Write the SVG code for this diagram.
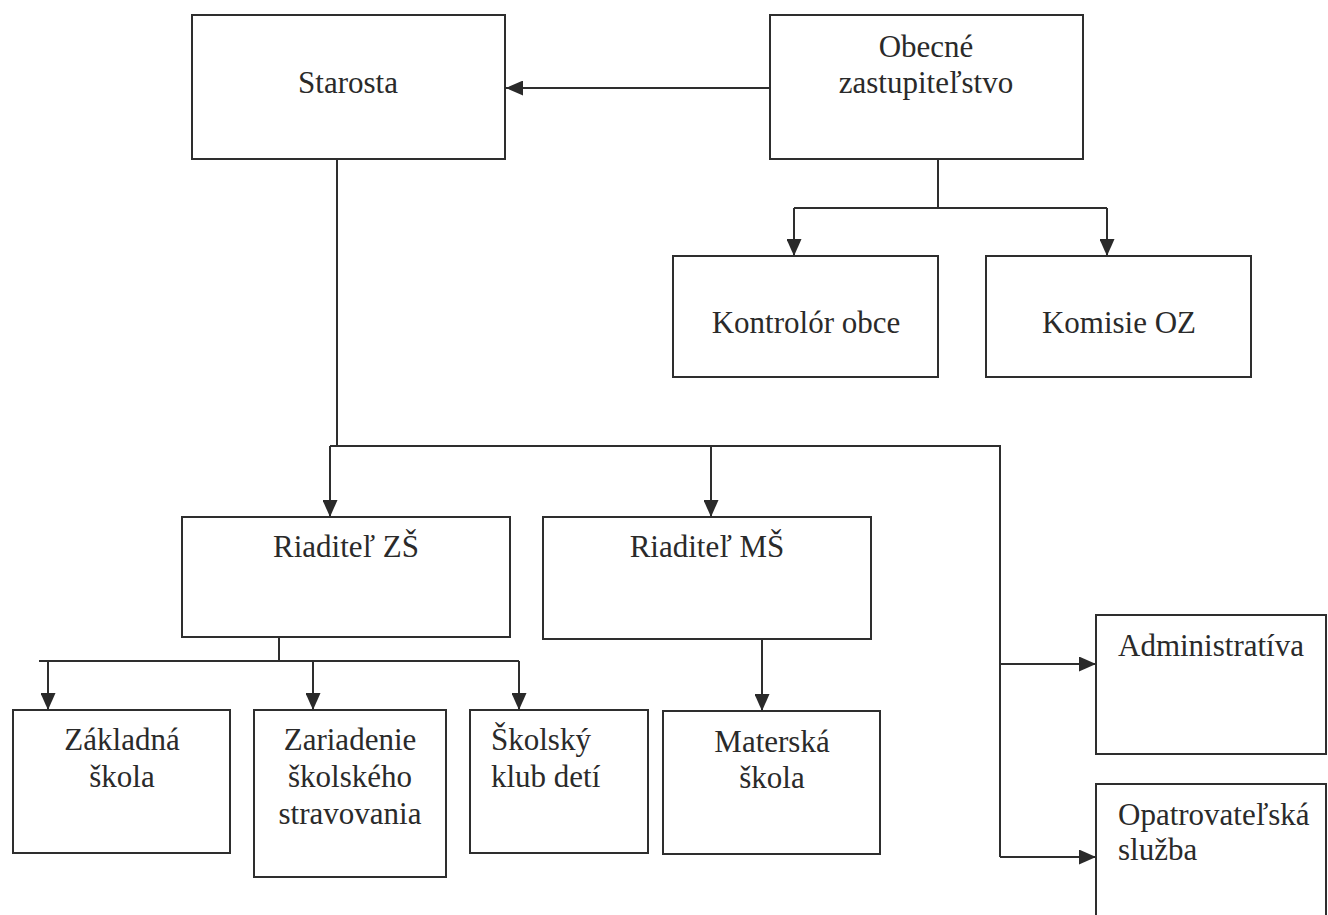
<svg xmlns="http://www.w3.org/2000/svg" width="1328" height="915" viewBox="0 0 1328 915">
<style>
.box{fill:none;stroke:#2e2e2e;stroke-width:2}
.ln{fill:none;stroke:#2e2e2e;stroke-width:2}
.arr{marker-end:url(#ah)}
.t{font-family:'Liberation Serif','DejaVu Serif',serif;font-size:31px;fill:#2a2a2a}
.c{text-anchor:middle}
</style>
<defs>
<marker id="ah" markerUnits="userSpaceOnUse" markerWidth="17" markerHeight="15" viewBox="0 0 17 15" refX="17" refY="7.5" orient="auto">
<path d="M0,0 L17,7.5 L0,15 Z" fill="#2a2a2a"/>
</marker>
</defs>
<rect width="1328" height="915" fill="#ffffff"/>
<g id="connectors">
<path class="ln arr" d="M770,88 H506"/>
<path class="ln" d="M938,159 V208 M794,208 H1107"/>
<path class="ln arr" d="M794,208 V256"/>
<path class="ln arr" d="M1107,208 V256"/>
<path class="ln" d="M337,159 V446 M330,446 H1000 V857"/>
<path class="ln arr" d="M330,446 V517"/>
<path class="ln arr" d="M711,446 V517"/>
<path class="ln arr" d="M1000,664 H1096"/>
<path class="ln arr" d="M1000,857 H1096"/>
<path class="ln" d="M279,637 V661 M39,661 H519"/>
<path class="ln arr" d="M48,661 V710"/>
<path class="ln arr" d="M313,661 V710"/>
<path class="ln arr" d="M519,661 V710"/>
<path class="ln arr" d="M762,639 V711"/>
</g>
<g id="starosta"><rect class="box" x="192" y="15" width="313" height="144"/><text class="t c" x="348" y="93">Starosta</text></g>
<g id="obecne"><rect class="box" x="770" y="15" width="313" height="144"/><text class="t c" x="926" y="57">Obecné</text><text class="t c" x="926" y="93">zastupiteľstvo</text></g>
<g id="kontrolor"><rect class="box" x="673" y="256" width="265" height="121"/><text class="t c" x="806" y="333">Kontrolór obce</text></g>
<g id="komisie"><rect class="box" x="986" y="256" width="265" height="121"/><text class="t c" x="1119" y="333">Komisie OZ</text></g>
<g id="riaditel-zs"><rect class="box" x="182" y="517" width="328" height="120"/><text class="t c" x="346" y="557">Riaditeľ ZŠ</text></g>
<g id="riaditel-ms"><rect class="box" x="543" y="517" width="328" height="122"/><text class="t c" x="707" y="557">Riaditeľ MŠ</text></g>
<g id="zakladna"><rect class="box" x="13" y="710" width="217" height="143"/><text class="t c" x="122" y="750">Základná</text><text class="t c" x="122" y="787">škola</text></g>
<g id="zariadenie"><rect class="box" x="254" y="710" width="192" height="167"/><text class="t c" x="350" y="750">Zariadenie</text><text class="t c" x="350" y="787">školského</text><text class="t c" x="350" y="824">stravovania</text></g>
<g id="klub"><rect class="box" x="470" y="710" width="178" height="143"/><text class="t" x="491" y="750">Školský</text><text class="t" x="491" y="787">klub detí</text></g>
<g id="materska"><rect class="box" x="663" y="711" width="217" height="143"/><text class="t c" x="772" y="752">Materská</text><text class="t c" x="772" y="788">škola</text></g>
<g id="administrativa"><rect class="box" x="1096" y="615" width="230" height="139"/><text class="t" x="1118" y="656">Administratíva</text></g>
<g id="opatrovatelska"><rect class="box" x="1096" y="784" width="230" height="150"/><text class="t" x="1118" y="825">Opatrovateľská</text><text class="t" x="1118" y="860">služba</text></g>
</svg>
